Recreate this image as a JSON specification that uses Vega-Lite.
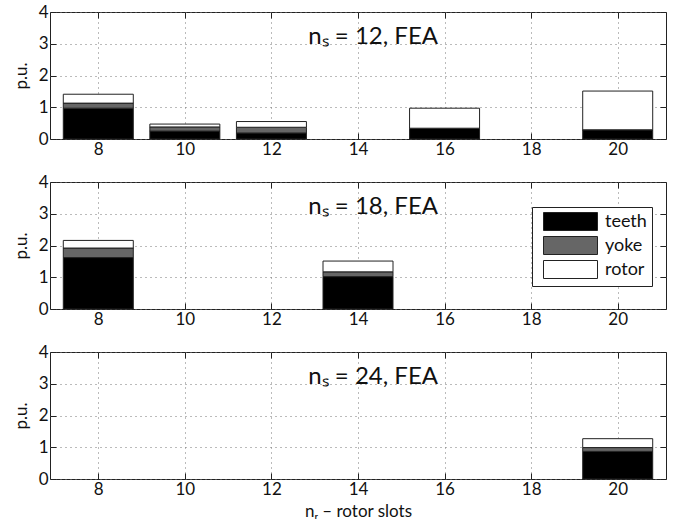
{
  "$schema": "https://vega.github.io/schema/vega-lite/v6.json",
  "padding": {"left": 11, "top": 2, "right": 6, "bottom": 2},
  "background": "white",
  "datasets": {
    "bars": [
      {"ns": 12, "nr": 8, "part": "teeth", "value": 0.97},
      {"ns": 12, "nr": 8, "part": "yoke", "value": 0.16},
      {"ns": 12, "nr": 8, "part": "rotor", "value": 0.28},
      {"ns": 12, "nr": 10, "part": "teeth", "value": 0.25},
      {"ns": 12, "nr": 10, "part": "yoke", "value": 0.13},
      {"ns": 12, "nr": 10, "part": "rotor", "value": 0.09},
      {"ns": 12, "nr": 12, "part": "teeth", "value": 0.19},
      {"ns": 12, "nr": 12, "part": "yoke", "value": 0.18},
      {"ns": 12, "nr": 12, "part": "rotor", "value": 0.18},
      {"ns": 12, "nr": 16, "part": "teeth", "value": 0.34},
      {"ns": 12, "nr": 16, "part": "yoke", "value": 0.0},
      {"ns": 12, "nr": 16, "part": "rotor", "value": 0.63},
      {"ns": 12, "nr": 20, "part": "teeth", "value": 0.29},
      {"ns": 12, "nr": 20, "part": "yoke", "value": 0.0},
      {"ns": 12, "nr": 20, "part": "rotor", "value": 1.22},
      {"ns": 18, "nr": 8, "part": "teeth", "value": 1.62},
      {"ns": 18, "nr": 8, "part": "yoke", "value": 0.30},
      {"ns": 18, "nr": 8, "part": "rotor", "value": 0.24},
      {"ns": 18, "nr": 14, "part": "teeth", "value": 1.02},
      {"ns": 18, "nr": 14, "part": "yoke", "value": 0.15},
      {"ns": 18, "nr": 14, "part": "rotor", "value": 0.34},
      {"ns": 24, "nr": 20, "part": "teeth", "value": 0.87},
      {"ns": 24, "nr": 20, "part": "yoke", "value": 0.12},
      {"ns": 24, "nr": 20, "part": "rotor", "value": 0.28}
    ],
    "titles": [
      {"ns": 12, "label": "nₛ = 12, FEA"},
      {"ns": 18, "label": "nₛ = 18, FEA"},
      {"ns": 24, "label": "nₛ = 24, FEA"}
    ]
  },
  "config": {
    "font": "Lato",
    "view": {"stroke": "#222", "strokeWidth": 1},
    "axis": {
      "domain": false,
      "labelFont": "Lato",
      "titleFont": "Lato",
      "labelFontSize": 17,
      "titleFontSize": 17,
      "titleFontWeight": "normal",
      "labelColor": "#111",
      "titleColor": "#111",
      "tickColor": "#222",
      "tickSize": -6,
      "gridColor": "#777",
      "gridDash": [1, 4],
      "gridOpacity": 1
    }
  },
  "spacing": 14,
  "resolve": {"legend": {"color": "independent"}},
  "vconcat": [
    {
      "width": 616, "height": 127,
      "resolve": {"axis": {"x": "independent", "y": "independent"}},
      "layer": [
        {
          "data": {"name": "bars"},
          "transform": [{"filter": "datum.ns == 12"}, {"calculate": "indexof(['teeth','yoke','rotor'], datum.part)", "as": "stackorder"}],
          "mark": {"type": "bar", "size": 70, "stroke": "#222", "strokeWidth": 1},
          "encoding": {
            "x": {"field": "nr", "type": "quantitative", "scale": {"domain": [7, 21], "nice": false, "zero": false},
                  "axis": {"values": [8, 10, 12, 14, 16, 18, 20], "title": null, "grid": true, "labelPadding": 8}},
            "y": {"field": "value", "type": "quantitative", "stack": "zero", "scale": {"domain": [0, 4], "nice": false},
                  "axis": {"values": [0, 1, 2, 3, 4], "title": "p.u.", "grid": true, "labelPadding": 8, "titlePadding": 8}},
            "color": {"field": "part", "type": "nominal", "sort": ["teeth", "yoke", "rotor"],
                      "scale": {"domain": ["teeth", "yoke", "rotor"], "range": ["#000000", "#666666", "#ffffff"]}, "legend": null},
            "order": {"field": "stackorder", "type": "quantitative", "sort": "ascending"}
          }
        },
        {
          "data": {"name": "titles"},
          "transform": [{"filter": "datum.ns == 12"}],
          "mark": {"type": "text", "fontSize": 24, "align": "center", "baseline": "alphabetic", "color": "#111"},
          "encoding": {
            "x": {"datum": 14.35, "type": "quantitative", "axis": {"orient": "top", "labels": false, "title": null, "grid": false, "values": [8, 10, 12, 14, 16, 18, 20]}},
            "y": {"datum": 2.98, "type": "quantitative", "axis": {"orient": "right", "labels": false, "title": null, "grid": false, "values": [0, 1, 2, 3, 4]}},
            "text": {"field": "label"}
          }
        }
      ]
    },
    {
      "width": 616, "height": 127,
      "resolve": {"axis": {"x": "independent", "y": "independent"}},
      "layer": [
        {
          "data": {"name": "bars"},
          "transform": [{"filter": "datum.ns == 18"}, {"calculate": "indexof(['teeth','yoke','rotor'], datum.part)", "as": "stackorder"}],
          "mark": {"type": "bar", "size": 70, "stroke": "#222", "strokeWidth": 1},
          "encoding": {
            "x": {"field": "nr", "type": "quantitative", "scale": {"domain": [7, 21], "nice": false, "zero": false},
                  "axis": {"values": [8, 10, 12, 14, 16, 18, 20], "title": null, "grid": true, "labelPadding": 8}},
            "y": {"field": "value", "type": "quantitative", "stack": "zero", "scale": {"domain": [0, 4], "nice": false},
                  "axis": {"values": [0, 1, 2, 3, 4], "title": "p.u.", "grid": true, "labelPadding": 8, "titlePadding": 8}},
            "color": {"field": "part", "type": "nominal", "sort": ["teeth", "yoke", "rotor"],
                      "scale": {"domain": ["teeth", "yoke", "rotor"], "range": ["#000000", "#666666", "#ffffff"]},
                      "legend": {"orient": "none", "legendX": 482, "legendY": 25, "title": null,
                                 "strokeColor": "#222", "fillColor": "white", "padding": 5,
                                 "symbolType": "M-3,-1H3V1H-3Z", "symbolSize": 324,
                                 "symbolOffset": 24, "labelOffset": 25,
                                 "symbolStrokeColor": "#222", "symbolStrokeWidth": 1, "symbolOpacity": 1,
                                 "labelFontSize": 18, "labelFont": "Lato", "labelColor": "#111", "rowPadding": 1}},
            "order": {"field": "stackorder", "type": "quantitative", "sort": "ascending"}
          }
        },
        {
          "data": {"name": "titles"},
          "transform": [{"filter": "datum.ns == 18"}],
          "mark": {"type": "text", "fontSize": 24, "align": "center", "baseline": "alphabetic", "color": "#111"},
          "encoding": {
            "x": {"datum": 14.35, "type": "quantitative", "axis": {"orient": "top", "labels": false, "title": null, "grid": false, "values": [8, 10, 12, 14, 16, 18, 20]}},
            "y": {"datum": 2.98, "type": "quantitative", "axis": {"orient": "right", "labels": false, "title": null, "grid": false, "values": [0, 1, 2, 3, 4]}},
            "text": {"field": "label"}
          }
        }
      ]
    },
    {
      "width": 616, "height": 127,
      "resolve": {"axis": {"x": "independent", "y": "independent"}},
      "layer": [
        {
          "data": {"name": "bars"},
          "transform": [{"filter": "datum.ns == 24"}, {"calculate": "indexof(['teeth','yoke','rotor'], datum.part)", "as": "stackorder"}],
          "mark": {"type": "bar", "size": 70, "stroke": "#222", "strokeWidth": 1},
          "encoding": {
            "x": {"field": "nr", "type": "quantitative", "scale": {"domain": [7, 21], "nice": false, "zero": false},
                  "axis": {"values": [8, 10, 12, 14, 16, 18, 20], "title": "nᵣ – rotor slots", "grid": true, "labelPadding": 8, "titlePadding": 6}},
            "y": {"field": "value", "type": "quantitative", "stack": "zero", "scale": {"domain": [0, 4], "nice": false},
                  "axis": {"values": [0, 1, 2, 3, 4], "title": "p.u.", "grid": true, "labelPadding": 8, "titlePadding": 8}},
            "color": {"field": "part", "type": "nominal", "sort": ["teeth", "yoke", "rotor"],
                      "scale": {"domain": ["teeth", "yoke", "rotor"], "range": ["#000000", "#666666", "#ffffff"]}, "legend": null},
            "order": {"field": "stackorder", "type": "quantitative", "sort": "ascending"}
          }
        },
        {
          "data": {"name": "titles"},
          "transform": [{"filter": "datum.ns == 24"}],
          "mark": {"type": "text", "fontSize": 24, "align": "center", "baseline": "alphabetic", "color": "#111"},
          "encoding": {
            "x": {"datum": 14.35, "type": "quantitative", "axis": {"orient": "top", "labels": false, "title": null, "grid": false, "values": [8, 10, 12, 14, 16, 18, 20]}},
            "y": {"datum": 2.98, "type": "quantitative", "axis": {"orient": "right", "labels": false, "title": null, "grid": false, "values": [0, 1, 2, 3, 4]}},
            "text": {"field": "label"}
          }
        }
      ]
    }
  ]
}
